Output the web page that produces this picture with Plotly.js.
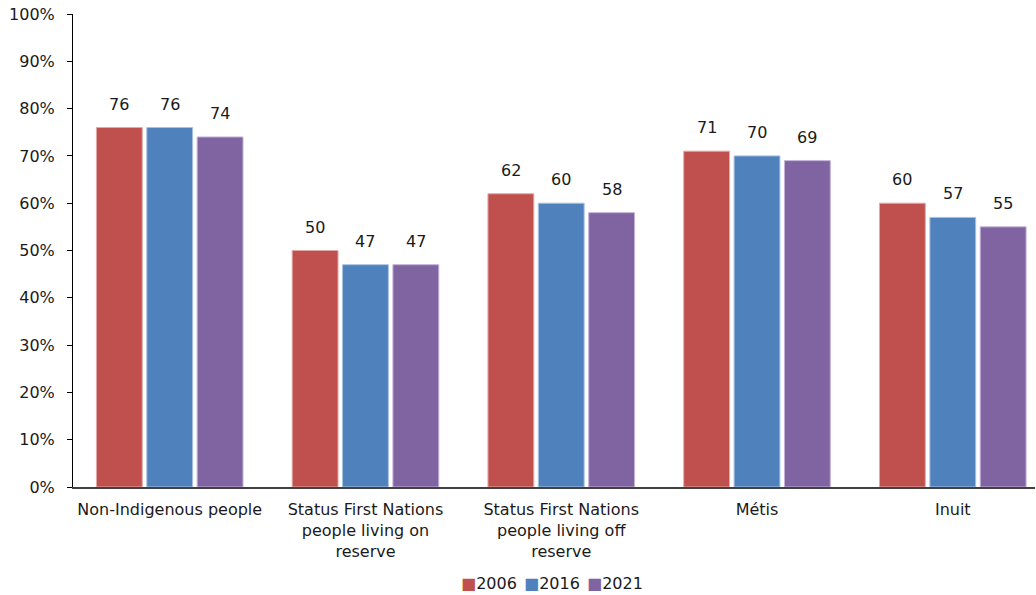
<!DOCTYPE html>
<html>
<head>
<meta charset="utf-8">
<script src="https://cdn.plot.ly/plotly-3.0.1.min.js"></script>
<style>
  html, body { margin: 0; padding: 0; background: #fff; }
  #chart { width: 1036px; height: 595px; }
</style>
</head>
<body>
<div id="chart"></div>
<script>
// Category labels along the x axis
const categories = [
  'Non-Indigenous people',
  'Status First Nations<br>people living on<br>reserve',
  'Status First Nations<br>people living off<br>reserve',
  'Métis',
  'Inuit'
];

// Series names and values (percent)
const seriesNames = ['2006', '2016', '2021'];
const values2006 = [76, 50, 62, 71, 60];
const values2016 = [76, 47, 60, 70, 57];
const values2021 = [74, 47, 58, 69, 55];

// Y-axis ticks and their labels
const yTicks = [0, 10, 20, 30, 40, 50, 60, 70, 80, 90, 100];
const yTickLabels = ['0%', '10%', '20%', '30%', '40%', '50%', '60%', '70%', '80%', '90%', '100%'];

const fills = ['#C0504D', '#4F81BD', '#8064A2'];
const edges = ['#E3A9A7', '#A9C2E3', '#C3B2D8'];
const allValues = [values2006, values2016, values2021];

const FONT = '"DejaVu Sans", Verdana, sans-serif';
const TEXT = '#1a1a1a';
const marginL = 73, marginR = 1, marginT = 14, marginB = 108;
const xRange = [-0.494, 4.42];
const bargap = 0.228;
const bargroupgap = 0.09;

const traces = allValues.map((vals, i) => ({
  type: 'bar',
  name: seriesNames[i],
  x: categories,
  y: vals,
  marker: { color: fills[i], line: { color: edges[i], width: 1 } },
  hoverinfo: 'x+y+name',
  showlegend: false
}));

// Value labels placed above each bar, shifted to its slot within the group
const plotWidth = 1036 - marginL - marginR;
const catPx = plotWidth / (xRange[1] - xRange[0]);
const slotPx = catPx * (1 - bargap) / 3;
const annotations = [];
allValues.forEach((vals, i) => {
  vals.forEach((v, j) => {
    annotations.push({
      x: categories[j], y: v, xref: 'x', yref: 'y',
      text: String(v), showarrow: false,
      xanchor: 'center', yanchor: 'bottom',
      xshift: (i - 1) * slotPx, yshift: 12,
      font: { family: FONT, size: 16, color: TEXT }
    });
  });
});

// Compact key below the plot: coloured square followed by the series name
const keyX = [0.401, 0.467, 0.532];
seriesNames.forEach((name, i) => {
  annotations.push({
    xref: 'paper', yref: 'paper', x: keyX[i], y: -0.203,
    xanchor: 'left', yanchor: 'middle', showarrow: false,
    text: '<span style="color:' + fills[i] + '">■</span>' + name,
    font: { family: FONT, size: 16, color: TEXT }
  });
});

const layout = {
  width: 1036, height: 595,
  margin: { l: marginL, r: marginR, t: marginT, b: marginB, pad: 0 },
  paper_bgcolor: '#ffffff', plot_bgcolor: '#ffffff',
  barmode: 'group', bargap: bargap, bargroupgap: bargroupgap,
  font: { family: FONT, size: 16, color: TEXT },
  showlegend: false,
  xaxis: {
    type: 'category', range: xRange,
    showline: true, linecolor: '#404040', linewidth: 1.5,
    ticks: '', showgrid: false, zeroline: false,
    ticklabelstandoff: 7,
    tickfont: { family: FONT, size: 16, color: TEXT },
    fixedrange: true
  },
  yaxis: {
    range: [0, 100], tickvals: yTicks, ticktext: yTickLabels,
    showline: true, linecolor: '#000000', linewidth: 1,
    ticks: 'outside', ticklen: 5, tickcolor: '#000000', tickwidth: 1,
    ticklabelstandoff: 9,
    showgrid: false, zeroline: false,
    tickfont: { family: FONT, size: 16, color: TEXT },
    fixedrange: true
  },
  annotations: annotations
};

Plotly.newPlot('chart', traces, layout, { displayModeBar: false });
</script>
</body>
</html>
